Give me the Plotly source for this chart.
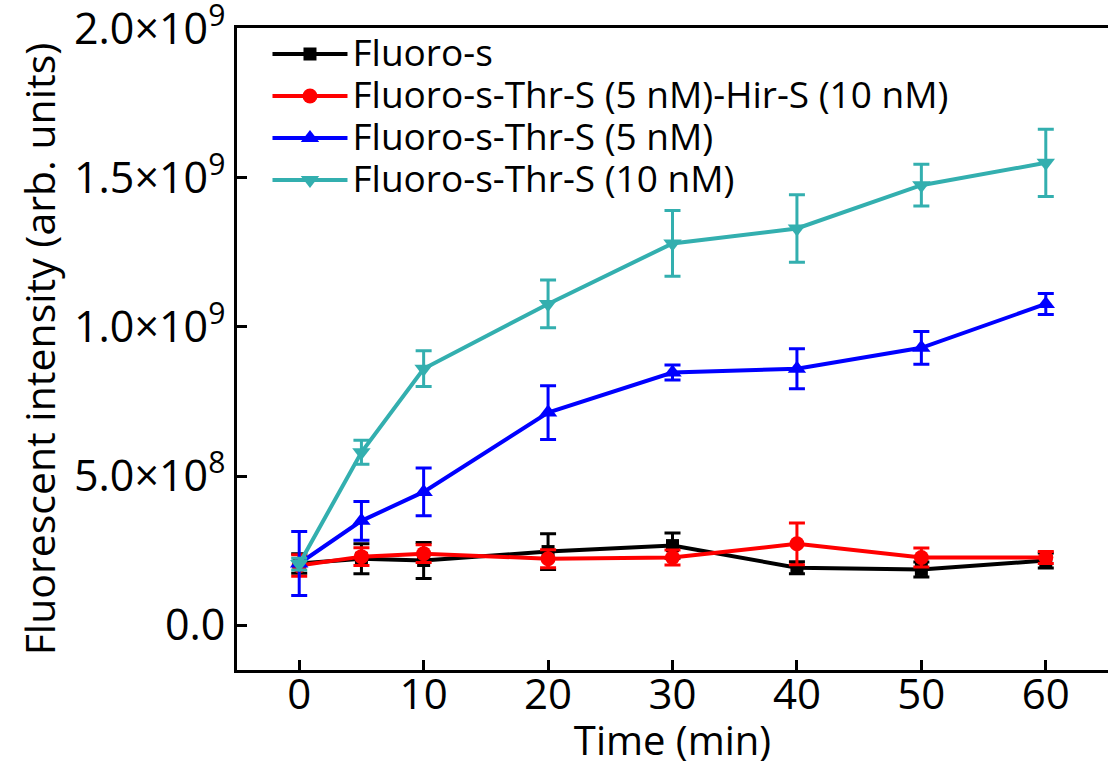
import plotly.graph_objects as go

time_min = [0, 5, 10, 20, 30, 40, 50, 60]

fluoro_s = [2.07e8, 2.23e8, 2.17e8, 2.47e8, 2.67e8, 1.93e8, 1.87e8, 2.17e8]
fluoro_s_err = [3.3e7, 5.0e7, 6.0e7, 6.0e7, 4.2e7, 2.0e7, 2.5e7, 2.5e7]

thr5_hir10 = [2.0e8, 2.3e8, 2.4e8, 2.23e8, 2.27e8, 2.73e8, 2.27e8, 2.27e8]
thr5_hir10_err = [3.6e7, 3.0e7, 3.0e7, 3.0e7, 2.5e7, 7.0e7, 3.2e7, 2.0e7]

thr5 = [2.07e8, 3.5e8, 4.47e8, 7.13e8, 8.47e8, 8.6e8, 9.3e8, 1.077e9]
thr5_err = [1.07e8, 6.5e7, 8.0e7, 9.0e7, 2.5e7, 6.7e7, 5.5e7, 3.5e7]

thr10 = [2.05e8, 5.8e8, 8.6e8, 1.077e9, 1.28e9, 1.33e9, 1.475e9, 1.55e9]
thr10_err = [2.0e7, 4.0e7, 6.0e7, 8.0e7, 1.1e8, 1.13e8, 7.0e7, 1.13e8]

series_names = [
    "Fluoro-s",
    "Fluoro-s-Thr-S (5 nM)-Hir-S (10 nM)",
    "Fluoro-s-Thr-S (5 nM)",
    "Fluoro-s-Thr-S (10 nM)",
]

y_tickvals = [0, 5e8, 1e9, 1.5e9, 2e9]
y_ticktext = ["0.0", "5.0×10<sup>8</sup>", "1.0×10<sup>9</sup>",
              "1.5×10<sup>9</sup>", "2.0×10<sup>9</sup>"]
x_tickvals = [0, 10, 20, 30, 40, 50, 60]

series = [
    (fluoro_s, fluoro_s_err, "#000000", "square", 13),
    (thr5_hir10, thr5_hir10_err, "#FF0000", "circle", 15),
    (thr5, thr5_err, "#0000FF", "triangle-up", 16),
    (thr10, thr10_err, "#33AFAF", "triangle-down", 16),
]

FONT = "Open Sans"

fig = go.Figure()
for name, (vals, errs, color, sym, msize) in zip(series_names, series):
    fig.add_trace(go.Scatter(
        x=time_min, y=vals,
        name='<span style="font-size:37px">' + name + '</span>',
        mode="lines+markers",
        line=dict(color=color, width=4),
        marker=dict(symbol=sym, size=msize, color=color),
        error_y=dict(type="data", array=errs, visible=True,
                     color=color, thickness=3, width=8),
    ))

fig.update_layout(
    width=1108, height=767,
    margin=dict(l=237, r=0, t=28, b=97, autoexpand=False),
    paper_bgcolor="white", plot_bgcolor="white",
    font=dict(family=FONT, color="black", size=36),
    showlegend=True,
    legend=dict(
        x=0.035, y=1.0, xanchor="left", yanchor="top",
        bgcolor="rgba(0,0,0,0)", borderwidth=0,
        font=dict(family=FONT, size=30, color="black"),
        itemwidth=75, tracegroupgap=0,
    ),
    xaxis=dict(
        range=[-5, 65], tickvals=x_tickvals, automargin=False,
        showline=True, linecolor="black", linewidth=3, mirror=True,
        ticks="inside", ticklen=10, tickwidth=3, tickcolor="black",
        showgrid=False, zeroline=False,
        tickfont=dict(family=FONT, size=42),
        ticklabelstandoff=-14,
        title=dict(text="Time (min)", font=dict(family=FONT, size=40), standoff=20),
    ),
    yaxis=dict(
        range=[-1.5e8, 2.002e9], tickvals=y_tickvals, ticktext=y_ticktext,
        automargin=False,
        showline=True, linecolor="black", linewidth=3, mirror=False,
        ticks="inside", ticklen=10, tickwidth=3, tickcolor="black",
        showgrid=False, zeroline=False,
        tickfont=dict(family=FONT, size=43),
        ticklabeloverflow="allow",
        title=dict(text="Fluorescent intensity (arb. units)",
                   font=dict(family=FONT, size=41), standoff=6),
    ),
)

fig.write_html("out.html")
